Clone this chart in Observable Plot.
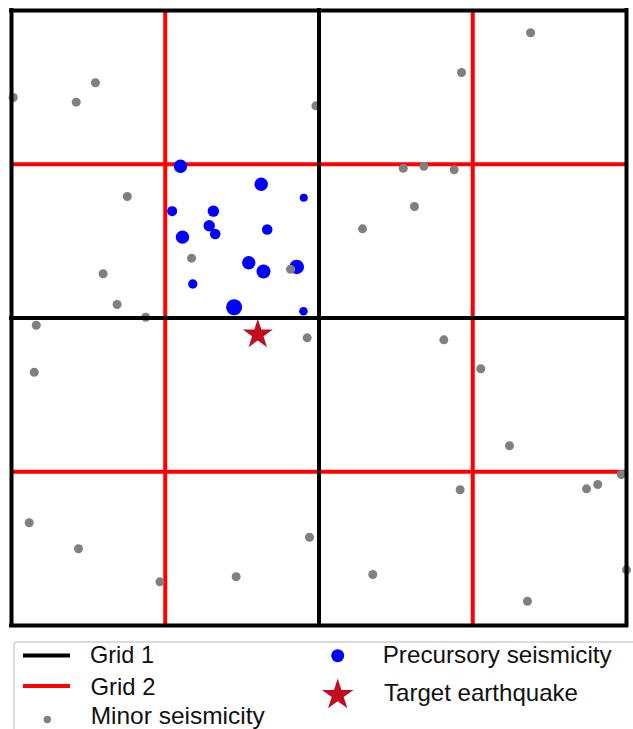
<!DOCTYPE html>
<html>
<head>
<meta charset="utf-8">
<script src="https://cdn.jsdelivr.net/npm/d3@7"></script>
<script src="https://cdn.jsdelivr.net/npm/@observablehq/plot@0.6"></script>
<style>
  html, body { margin: 0; padding: 0; background: #fff; overflow: hidden; }
  #wrap { position: relative; width: 633px; height: 729px; }
  #legend { position: absolute; left: 0; top: 636px; }
</style>
</head>
<body>
<div id="wrap"><div id="chart"></div><svg id="legend" width="633" height="93"></svg></div>
<script>
// Grid lines (map units; frame spans 0..4 in both directions)
const grid1Lines = [0, 2, 4];
const grid2Lines = [1, 3];

// Minor seismicity (x, y)
const minorX = [0.011, 0.421, 0.546, 1.980, 0.753, 1.171, 0.596, 0.687, 0.873, 0.161, 1.815,
  3.376, 2.927, 2.548, 2.682, 2.879, 2.621, 2.283, 1.923, 0.148, 0.115, 0.436, 0.965, 1.461,
  1.938, 2.812, 3.052, 3.239, 2.918, 3.740, 3.813, 3.966, 2.350, 3.356, 4.000];
const minorY = [3.434, 3.404, 3.530, 3.380, 2.790, 2.389, 2.288, 2.088, 2.005, 1.953, 2.317,
  3.855, 3.597, 2.974, 2.987, 2.964, 2.725, 2.580, 1.871, 1.647, 0.668, 0.499, 0.284, 0.317,
  0.574, 1.858, 1.670, 1.169, 0.883, 0.889, 0.917, 0.982, 0.332, 0.158, 0.362];

// Precursory seismicity (x, y, magnitude)
const precX = [1.099, 1.624, 1.901, 1.045, 1.313, 1.286, 1.325, 1.112, 1.663, 1.543, 1.639, 1.855, 1.179, 1.448, 1.899];
const precY = [2.987, 2.870, 2.782, 2.695, 2.695, 2.600, 2.546, 2.526, 2.576, 2.359, 2.302, 2.332, 2.221, 2.070, 2.044];
const precMag = [4.35, 4.35, 3.0, 3.5, 3.85, 3.85, 3.65, 4.35, 3.65, 4.35, 4.5, 4.65, 3.35, 5.0, 3.15];

// Target earthquake
const targetX = [1.602];
const targetY = [1.893];

// Legend labels
const legendLabels = ["Grid 1", "Grid 2", "Minor seismicity", "Precursory seismicity", "Target earthquake"];

const minor = minorX.map((x, i) => ({x, y: minorY[i]}));
const prec = precX.map((x, i) => ({x, y: precY[i], m: precMag[i]}));
const target = targetX.map((x, i) => ({x, y: targetY[i]}));

const STAR = "#c20d20";

const chart = Plot.plot({
  width: 633,
  height: 636,
  marginLeft: 11,
  marginRight: 7,
  marginTop: 10,
  marginBottom: 11,
  x: {domain: [0, 4], axis: null},
  y: {domain: [0, 4], axis: null},
  r: {type: "linear", domain: [1, 5], range: [0, 8]},
  marks: [
    Plot.ruleX(grid2Lines, {x: d => d, stroke: "#ff0000", strokeWidth: 4}),
    Plot.ruleY(grid2Lines, {y: d => d, stroke: "#ff0000", strokeWidth: 4}),
    Plot.dot(prec, {x: "x", y: "y", r: "m", fill: "#0000ff", stroke: "none"}),
    Plot.dot(minor, {x: "x", y: "y", r: 4.5, fill: "#808080", stroke: "none"}),
    Plot.ruleX(grid1Lines, {x: d => d, stroke: "#000", strokeWidth: 4, strokeLinecap: "square"}),
    Plot.ruleY(grid1Lines, {y: d => d, stroke: "#000", strokeWidth: 4, strokeLinecap: "square"}),
    Plot.dot(target, {x: "x", y: "y", r: 9.4, symbol: "star", fill: STAR, stroke: "none"})
  ]
});
document.getElementById("chart").appendChild(chart);

// Legend (below the plot)
const lg = d3.select("#legend");
lg.append("rect").attr("x", 14).attr("y", 6).attr("width", 700).attr("height", 200)
  .attr("rx", 3).attr("fill", "#fff").attr("stroke", "#cfcfcf").attr("stroke-width", 1.5);
lg.append("line").attr("x1", 23).attr("x2", 70).attr("y1", 19.5).attr("y2", 19.5)
  .attr("stroke", "#000").attr("stroke-width", 4);
lg.append("line").attr("x1", 23).attr("x2", 70).attr("y1", 50).attr("y2", 50)
  .attr("stroke", "#ff0000").attr("stroke-width", 4);
lg.append("circle").attr("cx", 47.3).attr("cy", 83.5).attr("r", 3.7).attr("fill", "#808080");
lg.append("circle").attr("cx", 337.7).attr("cy", 19.7).attr("r", 6.5).attr("fill", "#0000ff");
lg.append("path").attr("d", d3.symbol(d3.symbolStar, 16.5 * 16.5 / 0.8908130915292852)())
  .attr("transform", "translate(337.7,59)").attr("fill", STAR);

const textPos = [
  {x: 90, y: 27.3, w: 64},
  {x: 90.5, y: 59.3, w: 65},
  {x: 90.7, y: 88, w: 174},
  {x: 382.7, y: 27.3, w: 229},
  {x: 384, y: 64.5, w: 194}
];
legendLabels.forEach((t, i) => {
  lg.append("text").attr("x", textPos[i].x).attr("y", textPos[i].y)
    .attr("font-family", "'Liberation Sans', Arial, sans-serif").attr("font-size", 24)
    .attr("fill", "#111")
    .attr("textLength", textPos[i].w).attr("lengthAdjust", "spacingAndGlyphs")
    .text(t);
});
</script>
</body>
</html>
